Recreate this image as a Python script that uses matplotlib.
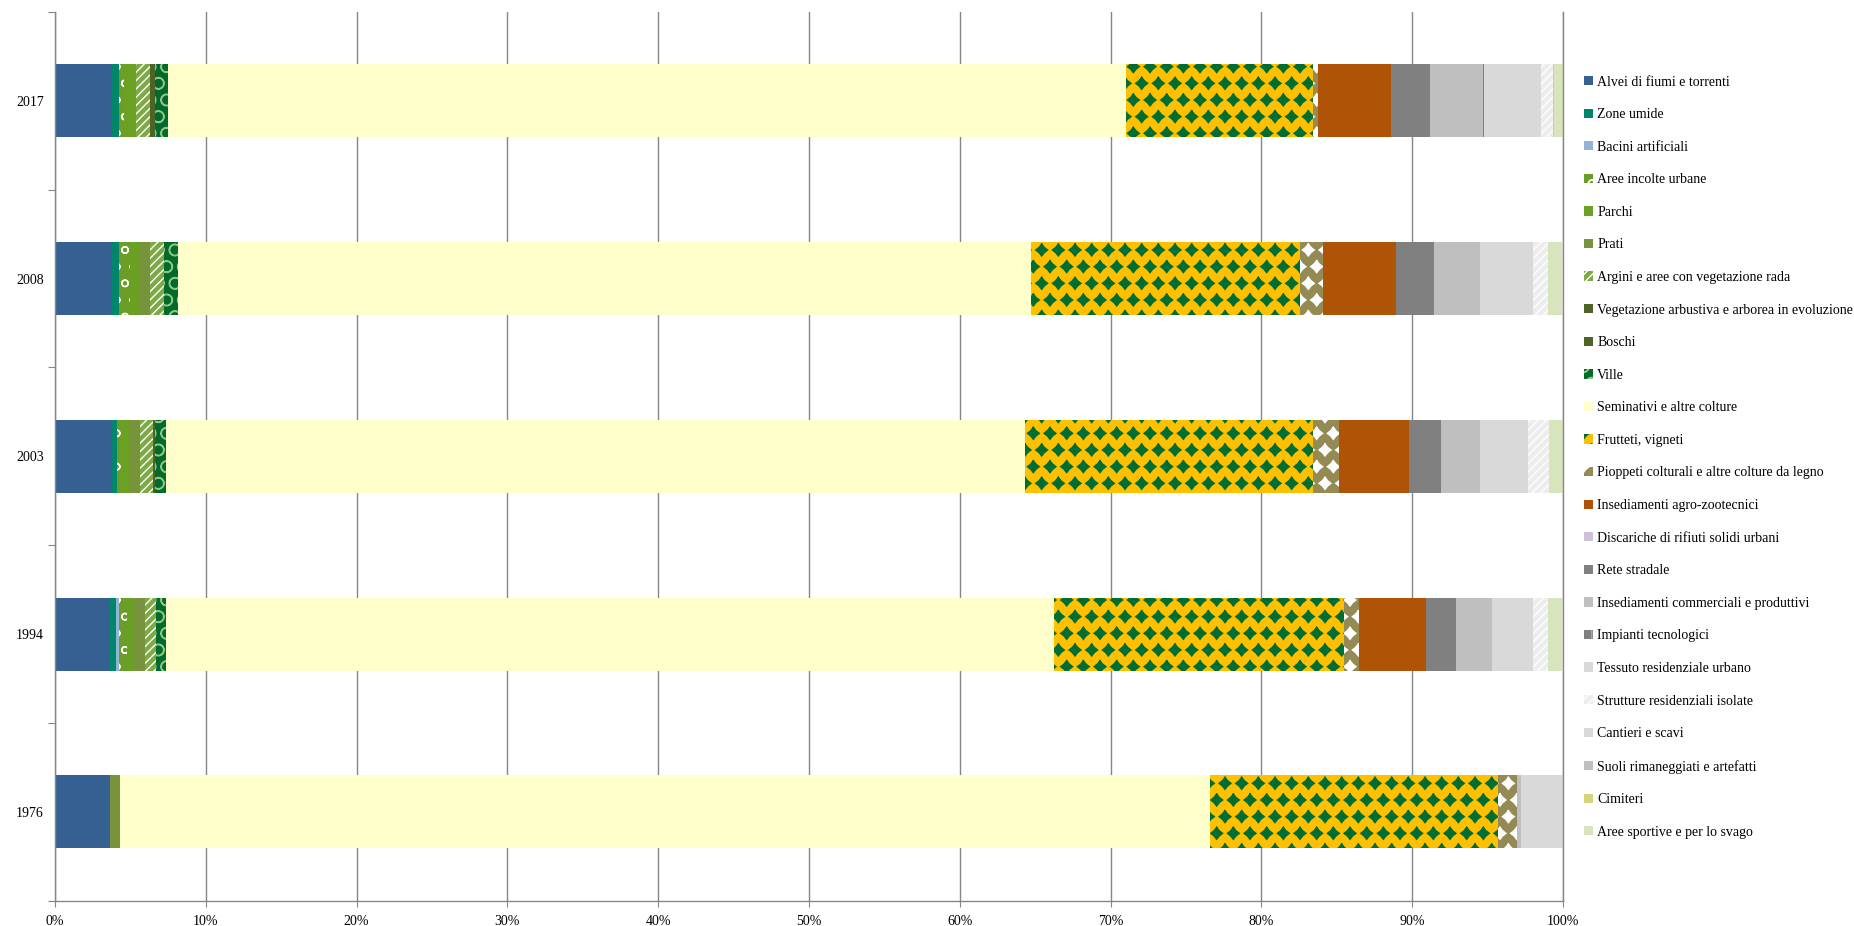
import matplotlib
matplotlib.use('Agg')
import matplotlib.pyplot as plt
import matplotlib.hatch as mhatch
from matplotlib.path import Path
from matplotlib.ticker import FuncFormatter, FixedLocator
import numpy as np

plt.rcParams['font.family'] = ['Liberation Serif', 'DejaVu Serif']
plt.rcParams['hatch.linewidth'] = 1.0


# diamond-shaped fill pattern (used for the '*' hatch), closer to the original patterns
class _Diamonds(mhatch.Shapes):
    size = 0.36
    filled = True

    def __init__(self, hatch, density):
        self.num_rows = hatch.count('*') * density
        path = Path.unit_regular_star(4, innerCircle=0.62)
        self.shape_vertices = path.vertices
        self.shape_codes = np.full(len(self.shape_vertices), Path.LINETO,
                                   dtype=Path.code_type)
        self.shape_codes[0] = Path.MOVETO
        super().__init__(hatch, density)


try:
    mhatch._hatch_types[mhatch._hatch_types.index(mhatch.Stars)] = _Diamonds
except Exception:
    pass

# ---- data (percent of area) ----
years = ['1976', '1994', '2003', '2008', '2017']

categories = [
    'Alvei di fiumi e torrenti', 'Zone umide', 'Bacini artificiali',
    'Aree incolte urbane', 'Parchi', 'Prati',
    'Argini e aree con vegetazione rada',
    'Vegetazione arbustiva e arborea in evoluzione', 'Boschi', 'Ville',
    'Seminativi e altre colture', 'Frutteti, vigneti',
    'Pioppeti colturali e altre colture da legno',
    'Insediamenti agro-zootecnici', 'Discariche di rifiuti solidi urbani',
    'Rete stradale', 'Insediamenti commerciali e produttivi',
    'Impianti tecnologici', 'Tessuto residenziale urbano',
    'Strutture residenziali isolate', 'Cantieri e scavi',
    'Suoli rimaneggiati e artefatti', 'Cimiteri',
    'Aree sportive e per lo svago',
]

alvei = [3.67, 3.63, 3.74, 3.78, 3.78]
zone_umide = [0.0, 0.44, 0.37, 0.44, 0.45]
bacini = [0.0, 0.15, 0.0, 0.0, 0.0]
aree_incolte = [0.0, 0.55, 0.29, 0.77, 0.35]
parchi = [0.0, 0.40, 0.50, 0.55, 0.75]
prati = [0.62, 0.78, 0.71, 0.73, 0.07]
argini = [0.0, 0.78, 0.88, 0.93, 0.88]
vegetazione = [0.0, 0.0, 0.16, 0.0, 0.33]
boschi = [0.0, 0.0, 0.0, 0.0, 0.0]
ville = [0.0, 0.62, 0.73, 0.94, 0.88]
seminativi = [72.30, 58.90, 56.95, 56.58, 63.50]
frutteti = [19.07, 19.20, 19.12, 17.81, 12.40]
pioppeti = [1.26, 1.00, 1.72, 1.57, 0.35]
agro = [0.0, 4.44, 4.64, 4.85, 4.88]
discariche = [0.0, 0.0, 0.0, 0.0, 0.0]
rete = [0.0, 2.00, 2.10, 2.52, 2.57]
commerciali = [0.27, 2.39, 2.59, 3.03, 3.49]
impianti = [0.0, 0.0, 0.0, 0.0, 0.10]
tessuto = [2.80, 2.74, 3.18, 3.51, 3.75]
strutture = [0.0, 0.95, 1.39, 1.02, 0.82]
cantieri = [0.0, 0.0, 0.0, 0.0, 0.0]
suoli = [0.0, 0.0, 0.0, 0.0, 0.0]
cimiteri = [0.0, 0.0, 0.0, 0.0, 0.05]
aree_sportive = [0.0, 0.93, 0.93, 0.90, 0.60]

series = [alvei, zone_umide, bacini, aree_incolte, parchi, prati, argini,
          vegetazione, boschi, ville, seminativi, frutteti, pioppeti, agro,
          discariche, rete, commerciali, impianti, tessuto, strutture,
          cantieri, suoli, cimiteri, aree_sportive]

# ---- styles ----
face_colors = ['#376092', '#00876B', '#95B3D7', '#6A9E28', '#6AA122', '#77933C',
               '#7DAA45', '#4F6228', '#4F6228', '#006B2D', '#FFFFCC', '#FFC000',
               '#948A54', '#AF5307', '#CCC0DA', '#808080', '#BFBFBF', '#808080',
               '#D9D9D9', '#EDEDED', '#D9D9D9', '#BFBFBF', '#D7D47E', '#D8E4BC']
hatch_colors = [None, None, None, 'white', None, None,
                'white', None, None, '#92C47D', None, '#006E32',
                'white', None, None, None, None, '#A6A6A6',
                None, 'white', None, None, None, None]
hatches = [None, None, None, 'o', None, None,
           '////', None, None, 'O', None, '*',
           '*', None, None, None, None, '|',
           None, '////', None, None, None, None]

fig = plt.figure(figsize=(18.54, 9.26), dpi=100)
ax = fig.add_axes([0.02967, 0.02732, 0.8134, 0.9597])

ypos = np.arange(len(years))
left = np.zeros(len(years))
for vals, name, fc, hc, h in zip(series, categories, face_colors, hatch_colors, hatches):
    vals = np.asarray(vals, dtype=float)
    if h is not None:
        ax.barh(ypos, vals, left=left, height=0.41, color=fc, edgecolor=hc,
                hatch=h, linewidth=0, label=name, zorder=2)
    else:
        ax.barh(ypos, vals, left=left, height=0.41, color=fc, linewidth=0,
                label=name, zorder=2)
    left += vals

ax.set_xlim(0, 100)
ax.set_ylim(-0.5, len(years) - 0.5)

ax.set_xticks(np.arange(0, 101, 10))
ax.xaxis.set_major_formatter(FuncFormatter(lambda v, p: f'{int(round(v))}%'))
ax.tick_params(axis='x', length=4, color='#868686', labelsize=10, pad=6)

ax.yaxis.set_major_locator(FixedLocator(np.arange(-0.5, len(years), 1.0)))
ax.yaxis.set_minor_locator(FixedLocator(ypos))
ax.set_yticklabels([], minor=False)
ax.set_yticklabels(years, minor=True)
ax.tick_params(axis='y', which='major', length=5, color='#868686')
ax.tick_params(axis='y', which='minor', length=0, labelsize=10, pad=8)

ax.grid(axis='x', color='#868686', linewidth=1.0, zorder=0)
ax.set_axisbelow(True)
ax.spines['top'].set_visible(False)
for s in ['left', 'bottom', 'right']:
    ax.spines[s].set_color('#868686')
    ax.spines[s].set_linewidth(1.0)

leg = fig.legend(loc='upper left', bbox_to_anchor=(1584 / 1854, 1 - 75.5 / 926),
                 frameon=False, fontsize=10, handlelength=0.65, handleheight=0.65,
                 handletextpad=0.3, labelspacing=1.41, borderpad=0, borderaxespad=0)

fig.savefig('out.png', dpi=100)
